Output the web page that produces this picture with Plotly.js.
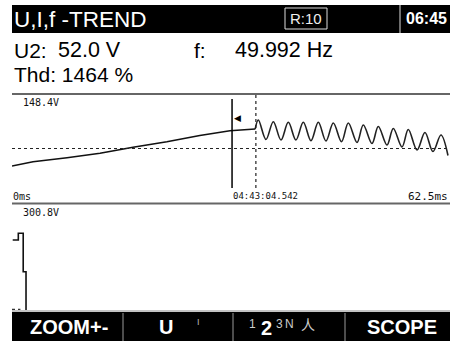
<!DOCTYPE html>
<html>
<head>
<meta charset="utf-8">
<script src="https://cdn.plot.ly/plotly-3.0.1.min.js"></script>
<style>
html,body{margin:0;padding:0;background:#fff;}
#chart{width:450px;height:341px;}
</style>
</head>
<body>
<div id="chart"></div>
<script>
// ---------- data ----------
// top panel: voltage waveform (ms, V)
var rampTime = [0, 3.0, 7.85, 12.56, 17.27, 22.1, 26.8, 31.1, 34.7];
var rampVolt = [-47.6, -35.9, -25.0, -13.1, 3.3, 18.5, 35.4, 48.4, 53.0];
var peakTime = [35.15, 37.29, 39.43, 41.57, 43.71, 45.85, 47.99, 50.13, 52.27, 54.41, 56.55, 58.93, 61.21];
var peakVolt = [77.5, 72.9, 71.3, 71.3, 71.3, 69.4, 69.4, 63.9, 59.8, 54.4, 51.7, 43.5, 36.7];
var troughTime = [36.24, 38.38, 40.52, 42.66, 44.80, 47.02, 49.23, 51.37, 53.51, 55.65, 57.79, 60.07, 62.21];
var troughVolt = [24.5, 23.1, 23.1, 21.2, 20.4, 18.5, 16.3, 13.6, 9.5, 4.1, -4.1, -8.2, -19.0];
var topRangeV = 148.4;      // V, full scale of top panel
var timeSpan = 62.5;        // ms
var cursorTime = 31.4;      // ms, solid cursor
var triggerTime = 34.8;     // ms, dotted marker

// bottom panel: trend (ms, V)
var trendTime = [0.1, 0.9, 0.9, 1.6, 1.6, 2.0, 2.0];
var trendVolt = [198.7, 198.7, 217.7, 217.7, 108.7, 108.7, 0];
var bottomRangeV = 300.8;

// texts
var titleText = "U,I,f -TREND";
var recText = "R:10";
var clockText = "06:45";
var u2Label = "U2:", u2Value = "52.0 V";
var fLabel = "f:", fValue = "49.992 Hz";
var thdText = "Thd: 1464 %";
var topScaleText = "148.4V", bottomScaleText = "300.8V";
var startText = "0ms", endText = "62.5ms", stampText = "04:43:04.542";
var menuLabels = ["ZOOM+-", "U", "SCOPE"];

// ---------- build wave from peaks/troughs ----------
var waveTime = [rampTime[rampTime.length-1]], waveVolt = [rampVolt[rampVolt.length-1]];
for (var i = 0; i < peakTime.length; i++) {
  waveTime.push(peakTime[i]); waveVolt.push(peakVolt[i]);
  waveTime.push(troughTime[i]); waveVolt.push(troughVolt[i]);
}

var W = 450, H = 341;
function px(x){return x / W;}
function py(y){return 1 - y / H;}

var traces = [
  {x: rampTime, y: rampVolt, xaxis:'x', yaxis:'y', mode:'lines', line:{color:'#111', width:1.6}, hoverinfo:'skip'},
  {x: waveTime, y: waveVolt, xaxis:'x', yaxis:'y', mode:'lines', line:{color:'#222', width:1.6, shape:'spline', smoothing:1.0}, hoverinfo:'skip'},
  {x: trendTime, y: trendVolt, xaxis:'x2', yaxis:'y2', mode:'lines', line:{color:'#111', width:1.6}, hoverinfo:'skip'}
];

var mono = "DejaVu Sans Mono";
var sans = "Liberation Sans, Arial, sans-serif";
function ann(text, x, y, opts) {
  var a = {text:text, x:px(x), y:py(y), xref:'paper', yref:'paper', showarrow:false,
    xanchor:(opts.xa||'left'), yanchor:'middle',
    font:{family:opts.family||sans, size:opts.size||12, color:opts.color||'#000', weight:opts.weight||'normal'}};
  return a;
}

var annotations = [
  ann(titleText, 12, 19.5, {size:22.5, color:'#fff'}),
  ann(recText, 306, 19, {xa:'center', size:15, color:'#eee'}),
  ann(clockText, 426, 19, {xa:'center', size:16, color:'#fff', weight:'bold'}),
  ann(u2Label, 12, 50.5, {size:21}),
  ann(u2Value, 56, 50.5, {size:21.5}),
  ann(fLabel, 192, 50.5, {size:21}),
  ann(fValue, 233, 50.5, {size:21.5}),
  ann(thdText, 12, 74.5, {size:21}),
  ann(topScaleText, 21, 103, {family:mono, size:10, color:'#111'}),
  ann(startText, 11, 196, {family:mono, size:10, color:'#111'}),
  ann(stampText, 231, 196, {family:mono, size:9, color:'#111'}),
  ann(endText, 450, 196, {xa:'right', family:mono, size:11, color:'#111'}),
  ann(bottomScaleText, 21, 212, {family:mono, size:10, color:'#111'}),
  ann(menuLabels[0], 69, 327, {xa:'center', size:20, color:'#fff', weight:'bold'}),
  ann(menuLabels[1], 166, 327, {xa:'center', size:20, color:'#fff', weight:'bold'}),
  ann("I", 198, 322, {xa:'center', size:9, color:'#bbb'}),
  ann("1", 252, 324, {xa:'center', size:12, color:'#ccc'}),
  ann("2", 266, 328, {xa:'center', size:20, color:'#fff', weight:'bold'}),
  ann("3", 279, 324, {xa:'center', size:12, color:'#ccc'}),
  ann("N", 289, 324, {xa:'center', size:12, color:'#ccc'}),
  ann("人", 308, 324, {xa:'center', size:14, color:'#ccc', family:"Noto Sans CJK SC"}),
  ann(menuLabels[2], 402, 327, {xa:'center', size:20, color:'#fff', weight:'bold'}),
  {text:"◀", x:cursorTime, y:py(117.5), xref:'x', yref:'paper', showarrow:false, xanchor:'left', yanchor:'middle',
   font:{family:"DejaVu Sans", size:9, color:'#000'}}
];

function rect(x0,y0,x1,y1,fill,line){return {type:'rect', xref:'paper', yref:'paper', x0:px(x0), x1:px(x1), y0:py(y1), y1:py(y0), fillcolor:fill, line:line||{width:0}, layer:'below'};}
function hline(x0,x1,y,color,w,dash){return {type:'line', xref:'paper', yref:'paper', x0:px(x0), x1:px(x1), y0:py(y), y1:py(y), line:{color:color, width:w, dash:dash||'solid'}};}
function vline(x,y0,y1,color,w){return {type:'line', xref:'paper', yref:'paper', x0:px(x), x1:px(x), y0:py(y0), y1:py(y1), line:{color:color, width:w}};}

var shapes = [
  rect(12, 5, 450, 33, '#000'),
  {type:'rect', xref:'paper', yref:'paper', x0:px(285), x1:px(327), y0:py(29), y1:py(8), line:{color:'#ddd', width:1}, fillcolor:'rgba(0,0,0,0)'},
  vline(400, 5, 33, '#ddd', 1),
  hline(12, 450, 94, '#666', 2),
  hline(12, 450, 203.5, '#666', 2),
  hline(12, 450, 311, '#888', 1),
  rect(12, 312, 450, 341, '#000'),
  vline(123, 313, 341, '#999', 1),
  vline(233, 313, 341, '#999', 1),
  vline(345, 313, 341, '#999', 1),
  {type:'line', xref:'x domain', yref:'y', x0:0, x1:1, y0:0, y1:0, line:{color:'#222', width:1, dash:'dot'}},
  {type:'line', xref:'x', yref:'paper', x0:triggerTime, x1:triggerTime, y0:py(188), y1:py(94), line:{color:'#222', width:1.2, dash:'dot'}},
  {type:'line', xref:'x', yref:'paper', x0:cursorTime, x1:cursorTime, y0:py(188), y1:py(99), line:{color:'#000', width:1.5}},
  {type:'line', xref:'x2', yref:'y2', x0:0, x1:1.2, y0:2, y1:2, line:{color:'#333', width:1.2, dash:'dot'}}
];

var layout = {
  width: W, height: H,
  margin:{l:0, r:0, t:0, b:0, pad:0},
  paper_bgcolor:'#fff', plot_bgcolor:'rgba(0,0,0,0)',
  showlegend:false,
  xaxis:{domain:[px(12), 1], range:[0, timeSpan], visible:false, fixedrange:true},
  yaxis:{domain:[py(203), py(94)], range:[-topRangeV, topRangeV], visible:false, fixedrange:true},
  xaxis2:{domain:[px(12), 1], range:[0, timeSpan], visible:false, fixedrange:true, anchor:'y2'},
  yaxis2:{domain:[py(310), py(204)], range:[0, bottomRangeV], visible:false, fixedrange:true, anchor:'x2'},
  annotations: annotations,
  shapes: shapes
};

Plotly.newPlot('chart', traces, layout, {staticPlot:true, displayModeBar:false});
</script>
</body>
</html>
